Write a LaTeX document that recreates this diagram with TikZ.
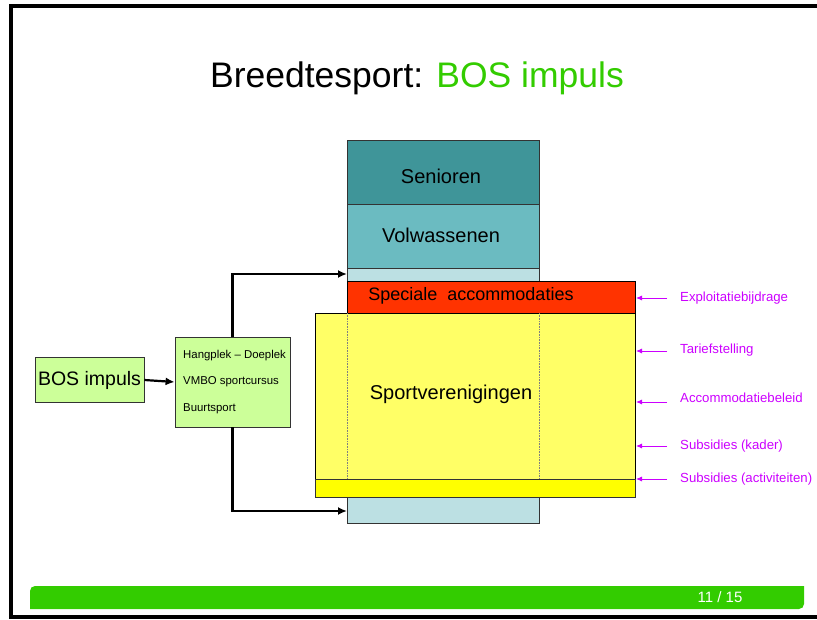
\documentclass[tikz,border=0pt]{standalone}
\usepackage{fontspec}
\setmainfont{Liberation Sans}
\usetikzlibrary{arrows.meta}
\definecolor{sen}{HTML}{3F9599}
\definecolor{vol}{HTML}{6BBBC1}
\definecolor{lblue}{HTML}{BCE0E3}
\definecolor{red1}{HTML}{FF3300}
\definecolor{yel1}{HTML}{FFFF66}
\definecolor{yel2}{HTML}{FFFF00}
\definecolor{lgreen}{HTML}{CCFF99}
\definecolor{tgreen}{HTML}{33CC00}
\definecolor{mag}{HTML}{CC00FF}
\definecolor{bord}{HTML}{333333}
\tikzset{
  blk/.style={draw=bord, line width=0.8pt},
  conn/.style={line width=2.2pt, -{Latex[length=9pt,width=8pt]}},
  magarr/.style={draw=mag, line width=0.8pt, -{Latex[length=6pt,width=5pt]}},
  maglbl/.style={text=mag, font=\fontsize{13.2}{15}\selectfont, anchor=west, inner sep=0pt},
  midtxt/.style={font=\fontsize{11.4}{13}\selectfont, anchor=west, inner sep=0pt},
}
\begin{document}
\begin{tikzpicture}[x=1pt,y=-1pt]
\useasboundingbox (0,0) rectangle (817,620);
% frame
\draw[line width=4pt] (830,6) -- (11,6) -- (11,617) -- (830,617);
% title
\node[font=\fontsize{35.5}{38}\selectfont] (title) at (417,78) {Breedtesport: \textcolor{tgreen}{BOS impuls}};
% stack
\filldraw[blk, fill=sen] (347,140) rectangle (539,204);
\node[font=\fontsize{20}{22}\selectfont] (sen) at (441,176) {Senioren};
\filldraw[blk, fill=vol] (347,204) rectangle (539,268);
\node[font=\fontsize{20}{22}\selectfont] (vol) at (441,235) {Volwassenen};
\filldraw[blk, fill=lblue] (347,268) rectangle (539,281);
\coordinate (topin) at (347,274);
\filldraw[draw=black, line width=0.8pt, fill=red1] (347,281) rectangle (635,313);
\node[font=\fontsize{18}{20}\selectfont] (spec) at (471,296) {Speciale\ \ accommodaties};
\filldraw[draw=black, line width=0.8pt, fill=yel1] (315,313) rectangle (635,479);
\draw[densely dotted, draw=gray, line width=0.6pt] (347,313) -- (347,479);
\draw[densely dotted, draw=gray, line width=0.6pt] (539,313) -- (539,479);
\node[font=\fontsize{20}{22}\selectfont] (sv) at (451,394) {Sportverenigingen};
\filldraw[draw=bord, line width=0.8pt, fill=yel2] (315,479) rectangle (635,497);
\filldraw[blk, fill=lblue] (347,497) rectangle (539,523);
\coordinate (botin) at (347,511);
% left boxes
\node[blk, fill=lgreen, minimum width=109pt, minimum height=45pt, inner sep=0pt, font=\fontsize{19.5}{22}\selectfont] (bos) at (89.5,380) {\raisebox{-1pt}{BOS impuls}};
\node[blk, fill=lgreen, minimum width=115pt, minimum height=90pt, inner sep=0pt] (mid) at (232.5,382) {};
\node[midtxt] (t1) at (183,356) {Hangplek -- Doeplek};
\node[midtxt] (t2) at (183,382) {VMBO sportcursus};
\node[midtxt] (t3) at (183,409) {Buurtsport};
% connectors
\draw[conn] (bos.east) -- (mid.west);
\draw[conn] (mid.north) |- (topin);
\draw[conn] (mid.south) |- (botin);
% magenta labels
\foreach \y/\n/\t in {298/l1/Exploitatiebijdrage,350/l2/Tariefstelling,398/l3/Accommodatiebeleid,446/l4/Subsidies (kader),479/l5/Subsidies (activiteiten)}{
  \node[maglbl] (\n) at (680,\y) {\t};
}
\foreach \y/\n in {298/l1,351/l2,402/l3,446/l4,479/l5}{
  \coordinate (\n a) at (667,\y);
  \coordinate (\n b) at (636,\y);
  \draw[magarr] (\n a) -- (\n b);
}
% footer
\fill[tgreen] (30,609) -- (30,591) arc[start angle=180, end angle=270, radius=5] -- (804,586) -- (804,604) arc[start angle=0, end angle=90, radius=5] -- cycle;
\node[text=white, font=\fontsize{15}{17}\selectfont] (pg) at (720,597) {11 / 15};
\end{tikzpicture}
\end{document}
